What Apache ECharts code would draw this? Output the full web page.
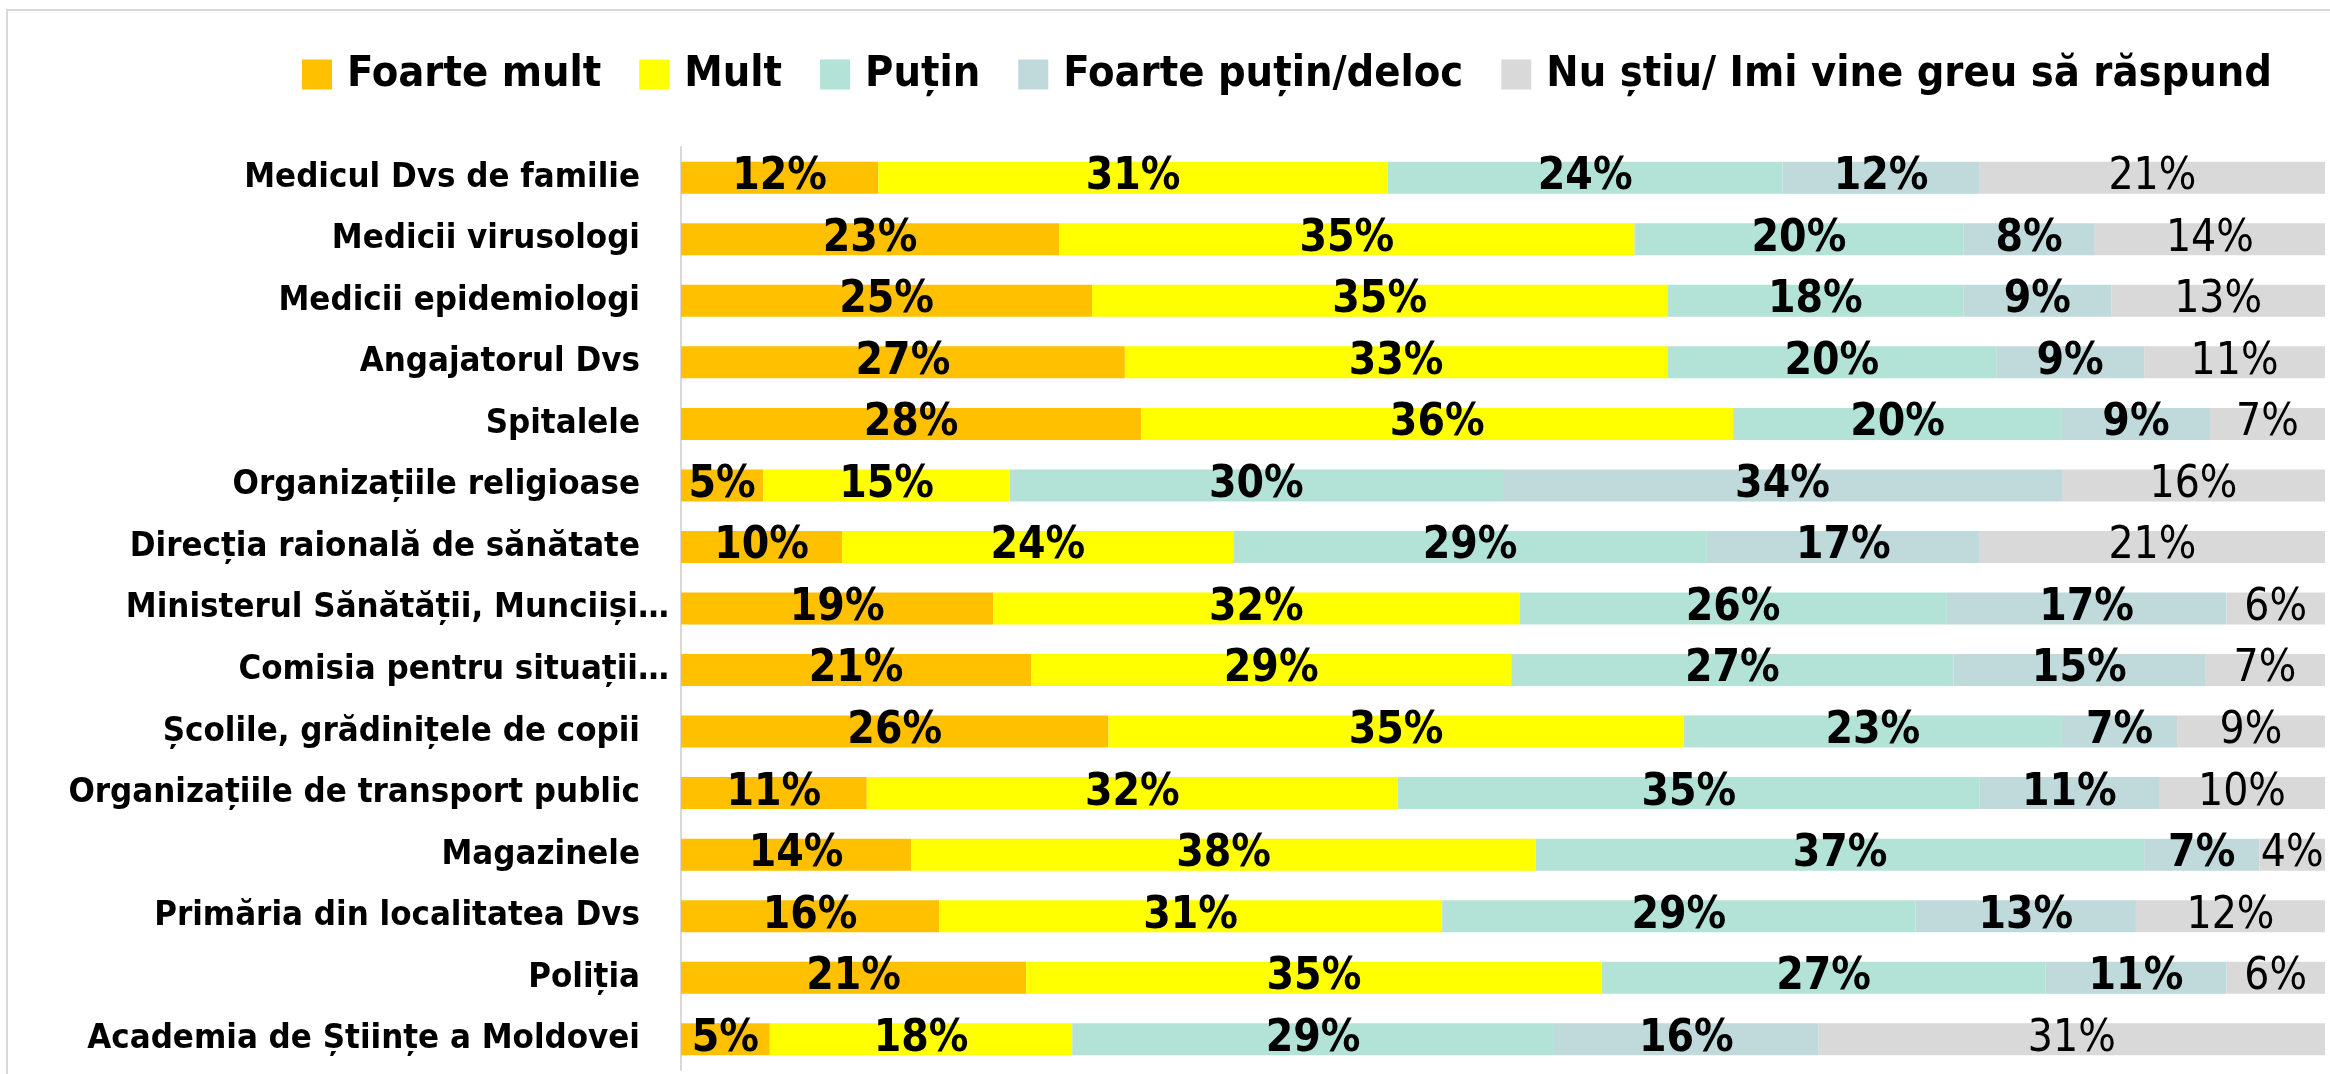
<!DOCTYPE html>
<html>
<head>
<meta charset="utf-8">
<script src="https://cdn.jsdelivr.net/npm/echarts@6/dist/echarts.min.js"></script>
<style>
  html, body { margin: 0; padding: 0; background: #fff; }
  #chart { width: 2330px; height: 1074px; }
</style>
</head>
<body>
<div id="chart"></div>
<script>
// categories, top to bottom
const categories = [
  'Medicul Dvs de familie',
  'Medicii virusologi',
  'Medicii epidemiologi',
  'Angajatorul Dvs',
  'Spitalele',
  'Organizațiile religioase',
  'Direcția raională de sănătate',
  'Ministerul Sănătății, Munciiși…',
  'Comisia pentru situații…',
  'Școlile, grădinițele de copii',
  'Organizațiile de transport public',
  'Magazinele',
  'Primăria din localitatea Dvs',
  'Poliția',
  'Academia de Științe a Moldovei'
]

const seriesNames = ['Foarte mult', 'Mult', 'Puțin', 'Foarte puțin/deloc', 'Nu știu/ Imi vine greu să răspund']

// values in % (labels are the rounded numbers)
const foarteMult = [12, 23, 25, 27, 28, 5, 9.8, 19, 21.3, 26, 11.3, 14, 15.7, 21, 5.4]
const mult = [31, 35, 35, 33, 36, 15, 23.8, 32, 29.2, 35, 32.3, 38, 30.6, 35, 18.4]
const putin = [24, 20, 18, 20, 20, 30, 28.8, 26, 26.9, 23, 35.4, 37, 28.8, 27, 29.3]
const foartePutin = [12, 8, 9, 9, 9, 34, 16.6, 17, 15.3, 7, 10.9, 7, 13.4, 11, 16.1]
const nuStiu = [21, 14, 13, 11, 7, 16, 21.0, 6, 7.3, 9, 10.1, 4, 11.5, 6, 30.8]

const colors = ['#FFC000', '#FFFF00', '#B3E3D6', '#C0D9DA', '#D9D9D9']
const FONT = "'DejaVu Sans Condensed', 'Noto Sans', sans-serif"

function genSeries(name, data, color, bold) {
  return {
    name: name,
    type: 'bar',
    stack: 'total',
    data: data,
    barWidth: 32,
    itemStyle: { color: color },
    label: {
      show: true,
      position: 'inside',
      formatter: function (p) { return Math.round(p.value) + '%' },
      color: '#000',
      fontFamily: FONT,
      fontSize: 44,
      fontWeight: bold ? 'bold' : 'normal'
    },
    emphasis: { disabled: true }
  }
}

const chart = echarts.init(document.getElementById('chart'))
chart.setOption({
  animation: false,
  backgroundColor: '#fff',
  graphic: [{
    type: 'rect',
    shape: { x: 7, y: 10, width: 2340, height: 1080 },
    style: { fill: 'none', stroke: '#d9d9d9', lineWidth: 2 },
    silent: true
  }],
  legend: {
    left: 297,
    top: 48,
    width: 2020,
    itemWidth: 30,
    itemHeight: 30,
    itemGap: 38,
    icon: 'rect',
    textStyle: {
      fontFamily: FONT,
      fontSize: 43,
      fontWeight: 'bold',
      color: '#000',
      padding: [0, 0, 0, 10]
    },
    data: seriesNames
  },
  grid: {
    left: 681,
    right: 5,
    top: 147,
    bottom: 4,
    containLabel: false,
    outerBoundsMode: 'none'
  },
  xAxis: {
    type: 'value',
    min: 0,
    max: 100,
    show: false
  },
  yAxis: {
    type: 'category',
    inverse: true,
    data: categories,
    axisLine: { show: true, lineStyle: { color: '#d9d9d9', width: 2 } },
    axisTick: { show: false },
    axisLabel: {
      margin: 12,
      formatter: function (v) {
        return v.endsWith('…') ? '{t|' + v + '}' : '{n|' + v + '}'
      },
      rich: {
        n: { fontFamily: FONT, fontSize: 34.5, fontWeight: 'bold', color: '#000', padding: [0, 29, 0, 0] },
        t: { fontFamily: FONT, fontSize: 34.5, fontWeight: 'bold', color: '#000' }
      }
    }
  },
  series: [
    genSeries(seriesNames[0], foarteMult, colors[0], true),
    genSeries(seriesNames[1], mult, colors[1], true),
    genSeries(seriesNames[2], putin, colors[2], true),
    genSeries(seriesNames[3], foartePutin, colors[3], true),
    genSeries(seriesNames[4], nuStiu, colors[4], false)
  ]
})
</script>
</body>
</html>
